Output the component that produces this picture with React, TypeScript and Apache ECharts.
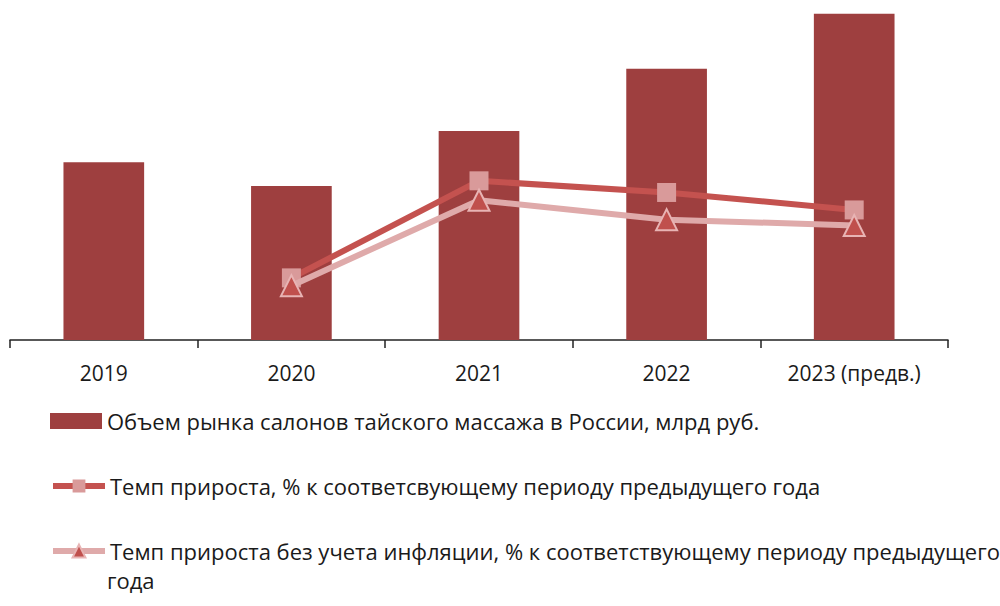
import React, { useEffect, useRef } from "react";
import * as echarts from "echarts";

const categories = ["2019", "2020", "2021", "2022", "2023 (предв.)"];
const marketVolume = [4.85, 4.2, 5.7, 7.4, 8.9];
const growthNominal = [null, -14, 36, 30, 21];
const growthReal = [null, -18, 26, 16, 13];
const seriesNames = [
  "Объем рынка салонов тайского массажа в России, млрд руб.",
  "Темп прироста, % к соответсвующему периоду предыдущего года",
  "Темп прироста без учета инфляции, % к соответствующему периоду предыдущего",
];
const wrapTail = "года";

const FONT = "Open Sans";

export default function App() {
  const ref = useRef<HTMLDivElement>(null);
  useEffect(() => {
    if (!ref.current) return;
    const chart = echarts.init(ref.current, null, { renderer: "svg" });
    const legendBase = {
      orient: "vertical",
      left: 50,
      padding: 0,
      itemWidth: 52,
      itemHeight: 16,
      textStyle: { fontFamily: FONT, fontSize: 22, lineHeight: 24, color: "#1a1a1a" },
      selectedMode: false,
    };
    chart.setOption({
      animation: false,
      backgroundColor: "#ffffff",
      grid: { left: 10, right: 52, top: 10, height: 330 },
      xAxis: {
        type: "category",
        data: categories,
        axisLine: { lineStyle: { color: "#222", width: 1.5 } },
        axisTick: { show: true, length: 8, lineStyle: { color: "#222", width: 1.5 } },
        axisLabel: { fontFamily: FONT, fontSize: 21, color: "#1a1a1a", margin: 22 },
      },
      yAxis: [
        { type: "value", min: 0, max: 9, show: false },
        { type: "value", min: -46, max: 124, show: false },
      ],
      legend: [
        { ...legendBase, top: 409, data: [{ name: seriesNames[0], icon: "rect" }] },
        { ...legendBase, top: 474, lineStyle: { width: 6 }, data: [seriesNames[1]] },
        { ...legendBase, top: 539, lineStyle: { width: 6 }, data: [seriesNames[2]] },
      ],
      graphic: [
        {
          type: "text",
          left: 107,
          top: 568,
          style: { text: wrapTail, fontFamily: FONT, fontSize: 22, lineHeight: 24, fill: "#1a1a1a" },
        },
      ],
      series: [
        {
          name: seriesNames[0],
          type: "bar",
          data: marketVolume,
          barWidth: "43%",
          itemStyle: { color: "#9E3F3F" },
          yAxisIndex: 0,
        },
        {
          name: seriesNames[1],
          type: "line",
          data: growthNominal,
          yAxisIndex: 1,
          symbol: "rect",
          symbolSize: 19,
          lineStyle: { color: "#C4524F", width: 6 },
          itemStyle: { color: "#D99A9A", borderColor: "#D99A9A", borderWidth: 0 },
          z: 3,
        },
        {
          name: seriesNames[2],
          type: "line",
          data: growthReal,
          yAxisIndex: 1,
          symbol: "triangle",
          symbolSize: 21,
          lineStyle: { color: "#DFAAAA", width: 6 },
          itemStyle: { color: "#C0504D", borderColor: "#E8B4B4", borderWidth: 2 },
          z: 4,
        },
      ],
    });
    return () => chart.dispose();
  }, []);
  return (
    <div
      ref={ref}
      style={{ position: "absolute", left: 0, top: 0, width: 1000, height: 606 }}
    />
  );
}
